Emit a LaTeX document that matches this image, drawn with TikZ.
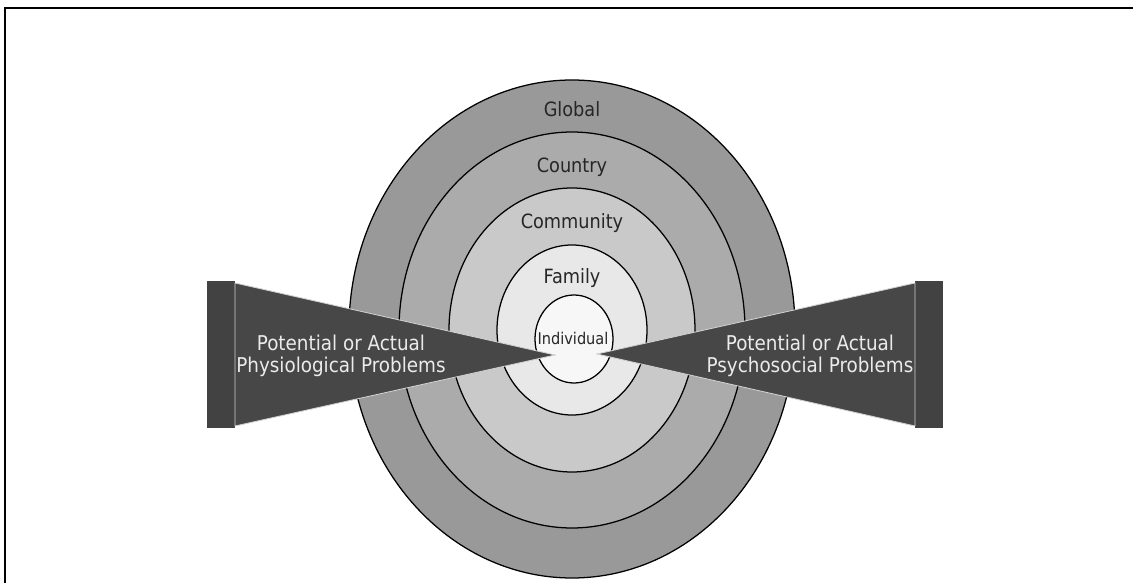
\documentclass[tikz,border=0pt]{standalone}
\usepackage{fontspec}
\setmainfont{DejaVu Sans Condensed}
\tikzset{
  ring/.style={draw=black,line width=0.9pt},
  lvl/.style={font=\fontsize{14}{16}\selectfont,text=black!85},
  wedge/.style={fill=black!72,draw=black!18,line width=0.6pt},
  bar/.style={fill=black!74},
  prob/.style={font=\fontsize{14.5}{16}\selectfont,text=white!92!black,align=center}
}
\begin{document}
\begin{tikzpicture}[x=0.025cm,y=-0.025cm]
\useasboundingbox (0,0) rectangle (1133,583);
\draw[line width=1pt] (5,583) -- (5,8) -- (1133,8);
% nested rings, outside in
\filldraw[ring,fill=black!40] (572,329) ellipse (223 and 249);
\filldraw[ring,fill=black!33] (572,330) ellipse (173 and 198);
\filldraw[ring,fill=black!21] (572,330) ellipse (123 and 142);
\filldraw[ring,fill=black!9]  (572,330) ellipse (75 and 85);
\filldraw[ring,fill=black!3]  (574,339) ellipse (39 and 44);
\path
(572,109) node[lvl] (global) {Global}
(572,167) node[lvl] (country) {Country}
(572,223) node[lvl] (community) {Community}
(572,278) node[lvl] (family) {Family}
(573,338) node[lvl,font=\fontsize{11.5}{13}\selectfont] (indiv) {Individual};
% the two problem wedges
\fill[bar] (207,281) rectangle (235,428);
\filldraw[wedge] (235,283) -- (555,355) -- (235,426) -- cycle;
\fill[bar] (915,281) rectangle (943,428);
\filldraw[wedge] (915,283) -- (597,354) -- (915,426) -- cycle;
\node[prob] (phys) at (341,356) {Potential or Actual\\Physiological Problems};
\node[prob] (psych) at (810,356) {Potential or Actual\\Psychosocial Problems};
\end{tikzpicture}
\end{document}
